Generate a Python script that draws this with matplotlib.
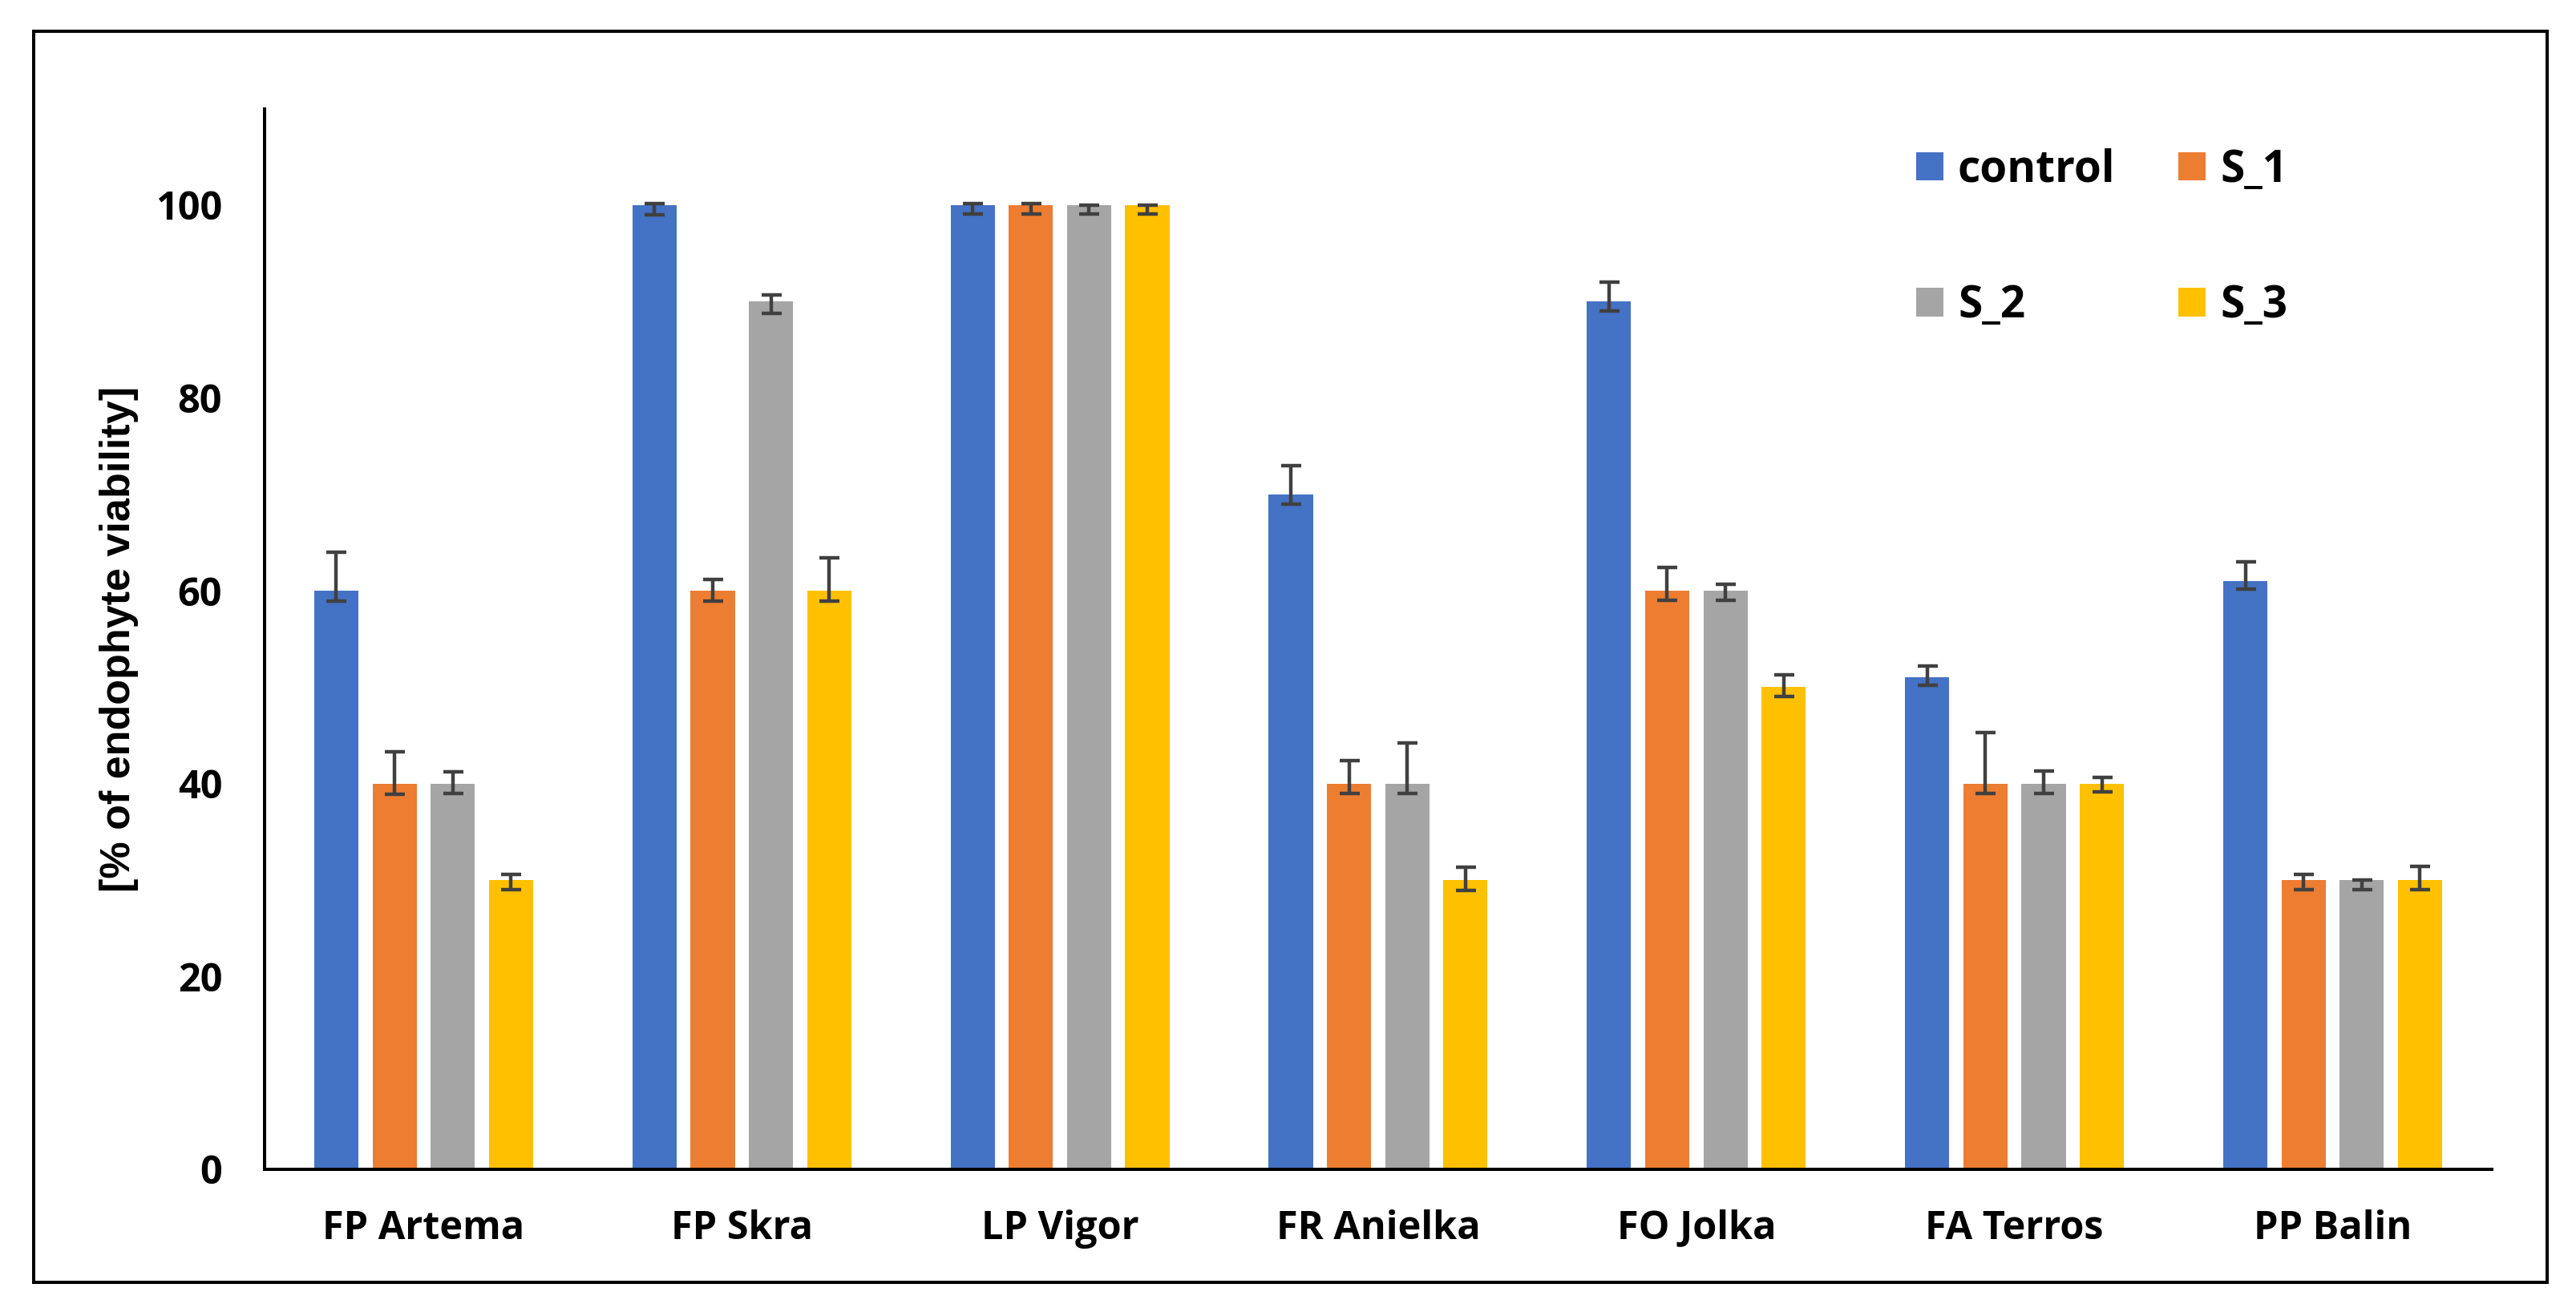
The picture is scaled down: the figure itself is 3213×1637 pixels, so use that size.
import numpy as np
import matplotlib.pyplot as plt
from matplotlib.patches import Rectangle

cultivars = ['FP Artema', 'FP Skra', 'LP Vigor', 'FR Anielka', 'FO Jolka', 'FA Terros', 'PP Balin']
series = ['control', 'S_1', 'S_2', 'S_3']

control = [60, 100, 100, 70, 90, 51, 61]
s_1 = [40, 60, 100, 40, 60, 40, 30]
s_2 = [40, 90, 100, 40, 60, 40, 30]
s_3 = [30, 60, 100, 30, 50, 40, 30]

# error bars (lower, upper)
control_lo = [1.1, 1.0, 0.9, 1.0, 1.0, 0.8, 0.8]
control_up = [4.0, 0.2, 0.2, 3.0, 2.0, 1.2, 2.0]
s_1_lo = [1.1, 1.1, 0.9, 1.0, 1.0, 1.0, 1.0]
s_1_up = [3.3, 1.2, 0.2, 2.4, 2.4, 5.3, 0.6]
s_2_lo = [1.0, 1.2, 0.9, 1.0, 1.0, 1.0, 1.0]
s_2_up = [1.2, 0.7, 0.0, 4.2, 0.7, 1.3, 0.0]
s_3_lo = [1.0, 1.1, 0.9, 1.1, 1.0, 0.9, 1.0]
s_3_up = [0.6, 3.4, 0.0, 1.3, 1.3, 0.6, 1.4]

colors = ['#4472C4', '#ED7D31', '#A5A5A5', '#FFC000']

values = [control, s_1, s_2, s_3]
lows = [control_lo, s_1_lo, s_2_lo, s_3_lo]
ups = [control_up, s_1_up, s_2_up, s_3_up]

fig = plt.figure(figsize=(32.13, 16.37), dpi=100)
ax = fig.add_axes([0.1027, 0.1090, 0.8646, 0.8081])

x = np.arange(len(cultivars))
pitch = 0.183
width = 0.139
handles = []
for i in range(4):
    b = ax.bar(x + (i - 1.5) * pitch, values[i], width, color=colors[i],
               yerr=[lows[i], ups[i]], label=series[i],
               error_kw=dict(ecolor='#404040', elinewidth=3.2, capsize=9, capthick=3.2, zorder=3))
    handles.append(b)

ax.set_xlim(-0.5, len(cultivars) - 0.5)
ax.set_ylim(0, 110)
ax.set_yticks([0, 20, 40, 60, 80, 100])
ax.set_xticks(x)
ax.set_xticklabels(cultivars)

for s in ['top', 'right']:
    ax.spines[s].set_visible(False)
for s in ['left', 'bottom']:
    ax.spines[s].set_linewidth(2.9)
    ax.spines[s].set_color('black')

ax.tick_params(axis='both', length=0)
ax.tick_params(axis='y', pad=38)
ax.tick_params(axis='x', pad=36)
for lab in ax.get_xticklabels() + ax.get_yticklabels():
    lab.set_fontfamily('Open Sans')
    lab.set_fontweight('bold')
    lab.set_fontsize(35)

ax.set_ylabel('[% of endophyte viability]', fontsize=37.5, fontweight='bold',
              family=['Liberation Sans', 'DejaVu Sans'])
ax.yaxis.set_label_coords(-0.0565, 0.5)

# row-major order like the original: control, S_1 / S_2, S_3
order = [0, 2, 1, 3]
ax.legend(handles=[handles[k] for k in order], ncol=2, loc='upper left', frameon=False,
          bbox_to_anchor=(0.7438, 0.887), bbox_transform=fig.transFigure,
          prop={'family': 'Open Sans', 'weight': 'bold', 'size': 39.5},
          borderpad=0, borderaxespad=0, handlelength=0.62, handleheight=0.62,
          handletextpad=0.33, labelspacing=2.08, columnspacing=1.44)

# outer frame
fig.patches.append(Rectangle((0.013, 0.0226), 0.9758, 0.9538, transform=fig.transFigure,
                             fill=False, edgecolor='black', linewidth=2.9))

fig.savefig('out.png', dpi=100)
